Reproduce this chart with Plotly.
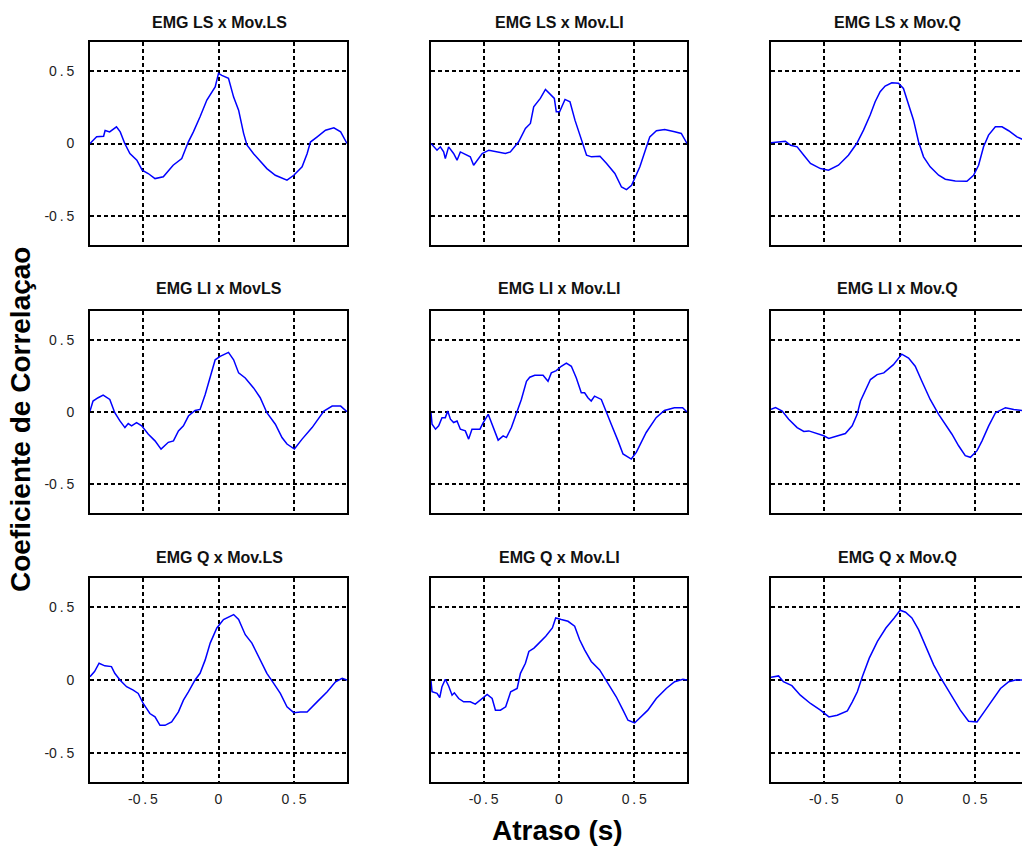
import plotly.graph_objects as go

# ---------------- data (lag in s, correlation coefficient) ----------------
titles = [
    "EMG LS x Mov.LS", "EMG LS x Mov.LI", "EMG LS x Mov.Q",
    "EMG LI x MovLS", "EMG LI x Mov.LI", "EMG LI x Mov.Q",
    "EMG Q x Mov.LS", "EMG Q x Mov.LI", "EMG Q x Mov.Q",
]

lag_ls_ls = [-0.85, -0.806, -0.76, -0.75, -0.72, -0.675, -0.65, -0.62, -0.586, -0.54, -0.505, -0.465, -0.42,
             -0.365, -0.30, -0.243, -0.2, -0.166, -0.122, -0.077, -0.022, 0.0, 0.022, 0.066, 0.1, 0.133,
             0.166, 0.188, 0.232, 0.288, 0.32, 0.376, 0.453, 0.498, 0.553, 0.586, 0.608, 0.653, 0.708,
             0.763, 0.808, 0.85]
corr_ls_ls = [0.0, 0.046, 0.05, 0.09, 0.08, 0.115, 0.08, 0.0, -0.07, -0.115, -0.184, -0.207, -0.242,
              -0.23, -0.15, -0.104, 0.01, 0.08, 0.184, 0.30, 0.39, 0.484, 0.47, 0.45, 0.32, 0.23,
              0.07, -0.01, -0.07, -0.138, -0.173, -0.219, -0.253, -0.219, -0.161, -0.07, 0.01, 0.046, 0.092,
              0.108, 0.08, 0.0]

lag_ls_li = [-0.85, -0.83, -0.81, -0.788, -0.766, -0.755, -0.733, -0.70, -0.677, -0.655, -0.611, -0.589,
             -0.567, -0.51, -0.466, -0.4, -0.356, -0.323, -0.268, -0.223, -0.19, -0.168, -0.124, -0.09,
             -0.057, -0.031, -0.018, 0.004, 0.04, 0.073, 0.106, 0.15, 0.183, 0.216, 0.272, 0.316, 0.371,
             0.415, 0.448, 0.482, 0.537, 0.581, 0.603, 0.647, 0.702, 0.768, 0.812, 0.85]
corr_ls_li = [0.0, -0.023, -0.046, -0.023, -0.058, -0.104, -0.023, -0.069, -0.115, -0.058, -0.081, -0.092,
              -0.15, -0.069, -0.046, -0.058, -0.069, -0.058, 0.012, 0.104, 0.138, 0.253, 0.311, 0.373,
              0.334, 0.311, 0.219, 0.219, 0.304, 0.288, 0.161, 0.023, -0.081, -0.092, -0.088, -0.138, -0.207,
              -0.3, -0.318, -0.288, -0.161, -0.023, 0.046, 0.088, 0.097, 0.081, 0.069, 0.0]

lag_ls_q = [-0.85, -0.755, -0.72, -0.677, -0.633, -0.589, -0.523, -0.47, -0.404, -0.338, -0.283, -0.238,
            -0.194, -0.161, -0.128, -0.095, -0.051, -0.007, 0.026, 0.06, 0.093, 0.126, 0.159, 0.203,
            0.259, 0.303, 0.369, 0.446, 0.49, 0.523, 0.556, 0.589, 0.634, 0.678, 0.722, 0.777, 0.824, 0.85]
corr_ls_q = [0.005, 0.016, -0.012, -0.023, -0.081, -0.138, -0.173, -0.184, -0.15, -0.081, 0.0, 0.092,
             0.196, 0.288, 0.357, 0.396, 0.419, 0.415, 0.38, 0.276, 0.161, 0.012, -0.092, -0.161,
             -0.219, -0.246, -0.258, -0.26, -0.219, -0.15, -0.023, 0.058, 0.115, 0.115, 0.088, 0.046, 0.023, 0.012]

lag_li_ls = [-0.85, -0.83, -0.796, -0.763, -0.719, -0.686, -0.652, -0.619, -0.597, -0.575, -0.542, -0.508,
             -0.464, -0.42, -0.38, -0.332, -0.298, -0.265, -0.232, -0.199, -0.155, -0.122, -0.088, -0.055,
             -0.022, 0.011, 0.066, 0.1, 0.133, 0.177, 0.232, 0.276, 0.32, 0.376, 0.42, 0.453, 0.502, 0.553,
             0.619, 0.697, 0.752, 0.808, 0.85]
corr_li_ls = [0.007, 0.076, 0.099, 0.117, 0.087, -0.005, -0.062, -0.108, -0.08, -0.096, -0.073, -0.096,
              -0.154, -0.2, -0.257, -0.21, -0.2, -0.131, -0.096, -0.028, 0.011, 0.018, 0.122, 0.236,
              0.362, 0.385, 0.413, 0.362, 0.271, 0.236, 0.167, 0.099, -0.005, -0.085, -0.177, -0.222, -0.257,
              -0.188, -0.108, 0.007, 0.041, 0.041, 0.002]

lag_li_li = [-0.85, -0.843, -0.82, -0.799, -0.777, -0.755, -0.739, -0.721, -0.7, -0.677, -0.655, -0.622,
             -0.6, -0.578, -0.525, -0.503, -0.47, -0.448, -0.426, -0.404, -0.371, -0.349, -0.316, -0.283,
             -0.25, -0.216, -0.194, -0.161, -0.106, -0.073, -0.051, -0.018, 0.015, 0.049, 0.082, 0.115,
             0.148, 0.17, 0.192, 0.214, 0.236, 0.281, 0.314, 0.347, 0.392, 0.425, 0.48, 0.513, 0.579,
             0.645, 0.7, 0.766, 0.821, 0.85]
corr_li_li = [-0.005, -0.085, -0.119, -0.096, -0.039, -0.039, 0.007, -0.05, -0.073, -0.062, -0.119, -0.131,
              -0.188, -0.119, -0.119, -0.073, -0.016, -0.073, -0.131, -0.195, -0.165, -0.177, -0.108, -0.005,
              0.087, 0.213, 0.241, 0.255, 0.255, 0.213, 0.271, 0.287, 0.317, 0.339, 0.317, 0.236,
              0.133, 0.133, 0.099, 0.076, 0.11, 0.087, 0.007, -0.085, -0.2, -0.291, -0.326, -0.28, -0.142,
              -0.039, 0.011, 0.03, 0.03, 0.0]

lag_li_q = [-0.85, -0.82, -0.776, -0.733, -0.677, -0.633, -0.6, -0.545, -0.501, -0.468, -0.424, -0.358,
            -0.313, -0.28, -0.258, -0.225, -0.192, -0.148, -0.104, -0.04, -0.007, 0.015, 0.06, 0.104,
            0.148, 0.203, 0.259, 0.303, 0.347, 0.391, 0.435, 0.469, 0.513, 0.546, 0.59, 0.635, 0.701,
            0.756, 0.825, 0.85]
corr_li_q = [0.018, 0.03, 0.007, -0.05, -0.108, -0.135, -0.131, -0.147, -0.165, -0.183, -0.17, -0.149,
             -0.096, -0.016, 0.076, 0.156, 0.225, 0.259, 0.271, 0.328, 0.374, 0.401, 0.374, 0.317,
             0.213, 0.087, -0.016, -0.085, -0.154, -0.234, -0.303, -0.314, -0.268, -0.2, -0.096, -0.005, 0.03,
             0.018, 0.007, 0.005]

lag_q_ls = [-0.85, -0.82, -0.79, -0.752, -0.708, -0.686, -0.652, -0.608, -0.564, -0.531, -0.498, -0.454,
            -0.42, -0.387, -0.354, -0.31, -0.265, -0.232, -0.199, -0.155, -0.122, -0.088, -0.055, -0.011,
            0.033, 0.077, 0.1, 0.133, 0.177, 0.221, 0.276, 0.32, 0.365, 0.409, 0.453, 0.498, 0.542, 0.586,
            0.652, 0.719, 0.774, 0.818, 0.85]
corr_q_ls = [0.023, 0.058, 0.115, 0.097, 0.092, 0.046, 0.0, -0.046, -0.069, -0.092, -0.161, -0.23,
             -0.253, -0.311, -0.311, -0.288, -0.219, -0.138, -0.081, 0.0, 0.046, 0.138, 0.253, 0.357,
             0.415, 0.438, 0.449, 0.415, 0.311, 0.253, 0.138, 0.046, -0.023, -0.092, -0.184, -0.224, -0.219, -0.219,
             -0.15, -0.081, -0.012, 0.012, 0.0]

lag_q_li = [-0.85, -0.843, -0.81, -0.792, -0.777, -0.755, -0.733, -0.71, -0.695, -0.666, -0.633, -0.589,
            -0.556, -0.51, -0.477, -0.444, -0.422, -0.389, -0.354, -0.321, -0.278, -0.256, -0.223, -0.2,
            -0.166, -0.133, -0.088, -0.044, -0.022, 0.015, 0.06, 0.104, 0.137, 0.17, 0.214, 0.27, 0.325,
            0.38, 0.425, 0.458, 0.502, 0.546, 0.59, 0.646, 0.712, 0.768, 0.823, 0.85]
corr_q_li = [-0.005, -0.081, -0.092, -0.12, -0.046, 0.005, -0.041, -0.104, -0.088, -0.127, -0.15, -0.15,
             -0.166, -0.127, -0.099, -0.127, -0.207, -0.207, -0.184, -0.081, -0.058, 0.046, 0.115, 0.196,
             0.219, 0.253, 0.3, 0.357, 0.426, 0.415, 0.403, 0.369, 0.276, 0.207, 0.127, 0.069, -0.023,
             -0.115, -0.207, -0.276, -0.295, -0.253, -0.207, -0.127, -0.058, -0.012, 0.005, 0.0]

lag_q_q = [-0.85, -0.8, -0.768, -0.712, -0.656, -0.589, -0.523, -0.467, -0.412, -0.345, -0.312, -0.279,
           -0.246, -0.2, -0.146, -0.09, -0.035, 0.004, 0.04, 0.082, 0.126, 0.181, 0.226, 0.281, 0.347,
           0.402, 0.457, 0.513, 0.568, 0.623, 0.668, 0.723, 0.767, 0.825, 0.85]
corr_q_q = [0.018, 0.028, -0.012, -0.039, -0.104, -0.161, -0.207, -0.253, -0.242, -0.212, -0.15, -0.081,
            0.023, 0.15, 0.265, 0.357, 0.426, 0.479, 0.465, 0.426, 0.346, 0.219, 0.104, 0.0, -0.115,
            -0.207, -0.283, -0.288, -0.207, -0.127, -0.058, -0.012, 0.0, 0.0, 0.0]

series = [
    (lag_ls_ls, corr_ls_ls), (lag_ls_li, corr_ls_li), (lag_ls_q, corr_ls_q),
    (lag_li_ls, corr_li_ls), (lag_li_li, corr_li_li), (lag_li_q, corr_li_q),
    (lag_q_ls, corr_q_ls), (lag_q_li, corr_q_li), (lag_q_q, corr_q_q),
]

tick_vals = [-0.5, 0, 0.5]
tick_text = ["-0\u2009.\u20095", "0", "0\u2009.\u20095"]
x_label = "Atraso (s)"
y_label = "Coeficiente de Correlaçao"

# ---------------- layout geometry ----------------
W, H = 1022, 847
col_px = [(90, 347), (431, 687), (771, 1022)]
row_px = [(42, 245), (311, 513), (578, 782)]
px_per_unit = 257 / 1.7

fig = go.Figure()
TICKFONT = dict(family="Liberation Sans Narrow, Arial Narrow, Liberation Sans, Arial, sans-serif",
                size=14, color="#222222")

for i, (xs, ys) in enumerate(series):
    r, c = divmod(i, 3)
    n = i + 1
    xa = "x" if n == 1 else f"x{n}"
    ya = "y" if n == 1 else f"y{n}"
    fig.add_trace(go.Scatter(x=xs, y=ys, mode="lines", xaxis=xa, yaxis=ya,
                             line=dict(color="#0000FF", width=1.5), showlegend=False,
                             hoverinfo="x+y"))
    x0, x1 = col_px[c]
    y0, y1 = row_px[r]
    xmax = -0.85 + (x1 - x0) / px_per_unit if c == 2 else 0.85
    xkey = "xaxis" if n == 1 else f"xaxis{n}"
    ykey = "yaxis" if n == 1 else f"yaxis{n}"
    fig.update_layout(**{
        xkey: dict(domain=[x0 / W, x1 / W], anchor=ya, range=[-0.85, xmax],
                   tickvals=tick_vals, ticktext=tick_text,
                   showticklabels=(r == 2), tickfont=TICKFONT,
                   ticks="outside", ticklen=3, tickcolor="rgba(0,0,0,0)",
                   showgrid=True, gridcolor="black", gridwidth=1.6, griddash="4px,3px",
                   zeroline=False, showline=True, linecolor="black", linewidth=2,
                   mirror=True, fixedrange=True),
        ykey: dict(domain=[1 - y1 / H, 1 - y0 / H], anchor=xa, range=[-0.7, 0.7],
                   tickvals=tick_vals, ticktext=tick_text,
                   showticklabels=(c == 0), tickfont=TICKFONT,
                   ticks="outside", ticklen=11, tickcolor="rgba(0,0,0,0)",
                   showgrid=True, gridcolor="black", gridwidth=1.6, griddash="4px,3px",
                   zeroline=False, showline=True, linecolor="black", linewidth=2,
                   mirror=(c != 2), fixedrange=True),
    })
    title_x = [219, 559, 897][c]
    title_y = [22, 289, 557][r]
    fig.add_annotation(text=f"<b>{titles[i]}</b>", xref="paper", yref="paper",
                       x=title_x / W, y=1 - title_y / H, showarrow=False,
                       xanchor="center", yanchor="middle",
                       font=dict(family="Liberation Sans, Arial, sans-serif", size=16, color="#111111"))

fig.add_annotation(text=f"<b>{x_label}</b>", xref="paper", yref="paper",
                   x=557 / W, y=1 - 830 / H, showarrow=False, xanchor="center", yanchor="middle",
                   font=dict(family="Liberation Sans, Arial, sans-serif", size=28, color="#000000"))
fig.add_annotation(text=f"<b>{y_label}</b>", xref="paper", yref="paper",
                   x=20 / W, y=1 - 420 / H, showarrow=False, xanchor="center", yanchor="middle",
                   textangle=-90,
                   font=dict(family="Liberation Sans, Arial, sans-serif", size=28, color="#000000"))

fig.update_layout(width=W, height=H, margin=dict(l=0, r=0, t=0, b=0),
                  paper_bgcolor="white", plot_bgcolor="white")

fig.write_html("out.html", config={"displayModeBar": False})
